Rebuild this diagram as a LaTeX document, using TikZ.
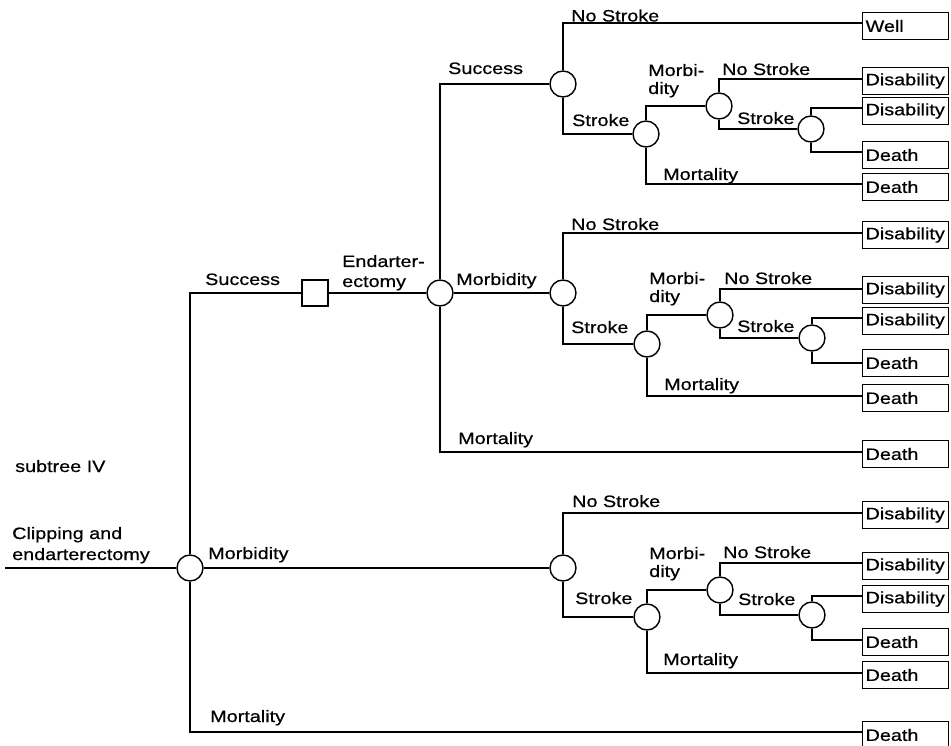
\documentclass[tikz,border=0pt]{standalone}
\usepackage{fontspec}
\setmainfont{Liberation Sans}[FakeStretch=1.2,FakeBold=0.6]
\begin{document}
\begin{tikzpicture}[x=1pt,y=-1pt,
  every node/.style={font=\fontsize{16.5}{18}\selectfont},
  chance/.style={circle,draw,line width=1.4pt,minimum size=26pt,inner sep=0pt},
  decision/.style={rectangle,draw,line width=1.3pt,minimum size=26pt,inner sep=0pt},
  outcome/.style={rectangle,draw,line width=1.2pt,minimum width=86pt,minimum height=27pt,
    inner sep=2.5pt,anchor=west,text width=80pt,align=left},
  lbl/.style={inner sep=0pt,anchor=base west,align=left},
  conn/.style={line width=1.2pt}]
\useasboundingbox (0,0) rectangle (951,746);

% ---------- root part ----------
\coordinate (in) at (5,568);
\node[chance] (R) at (190,568) {};
\node[decision] (S) at (315,293) {};
\node[chance] (E) at (440,293) {};

% ---------- top subtree ----------
\node[chance] (A1) at (563,84) {};
\node[chance] (B1) at (646,134) {};
\node[chance] (C1) at (719,106) {};
\node[chance] (D1) at (811,129) {};
\node[outcome] (T1) at (862,26) {Well};
\node[outcome] (T2) at (862,81) {Disability};
\node[outcome] (T3) at (862,111) {Disability};
\node[outcome] (T4) at (862,155) {Death};
\node[outcome] (T5) at (862,187) {Death};

% ---------- middle subtree ----------
\node[chance] (F) at (563,293) {};
\node[chance] (G) at (647,344) {};
\node[chance] (H) at (720,315) {};
\node[chance] (I) at (812,338) {};
\node[outcome] (M1) at (862,235) {Disability};
\node[outcome] (M2) at (862,290) {Disability};
\node[outcome] (M3) at (862,321) {Disability};
\node[outcome] (M4) at (862,363) {Death};
\node[outcome] (M5) at (862,398) {Death};
\node[outcome] (M6) at (862,454) {Death};

% ---------- bottom subtree ----------
\node[chance] (J) at (563,568) {};
\node[chance] (K) at (647,617) {};
\node[chance] (L) at (720,590) {};
\node[chance] (Mc) at (812,615) {};
\node[outcome] (U1) at (862,515) {Disability};
\node[outcome] (U2) at (862,566) {Disability};
\node[outcome] (U3) at (862,599) {Disability};
\node[outcome] (U4) at (862,642) {Death};
\node[outcome] (U5) at (862,675) {Death};
\node[outcome] (U6) at (862,735) {Death};

% ---------- connectors ----------
\draw[conn] (in) -- (R.west);
\draw[conn] (R.north) |- (S.west);
\draw[conn] (S.east) -- (E.west);
\draw[conn] (R.east) -- (J.west);
\draw[conn] (R.south) |- ([yshift=3pt]U6.west);

\draw[conn] (E.north) |- (A1.west);
\draw[conn] (E.east) -- (F.west);
\draw[conn] (E.south) |- ([yshift=2pt]M6.west);

% top
\draw[conn] (A1.north) |- ([yshift=3pt]T1.west);
\draw[conn] (A1.south) |- (B1.west);
\draw[conn] (B1.north) |- (C1.west);
\draw[conn] (B1.south) |- ([yshift=3pt]T5.west);
\draw[conn] (C1.north) |- ([yshift=2pt]T2.west);
\draw[conn] (C1.south) |- (D1.west);
\draw[conn] (D1.north) |- ([yshift=3pt]T3.west);
\draw[conn] (D1.south) |- ([yshift=3pt]T4.west);

% middle
\draw[conn] (F.north) |- ([yshift=2pt]M1.west);
\draw[conn] (F.south) |- (G.west);
\draw[conn] (G.north) |- (H.west);
\draw[conn] (G.south) |- ([yshift=2pt]M5.west);
\draw[conn] (H.north) |- ([yshift=1pt]M2.west);
\draw[conn] (H.south) |- (I.west);
\draw[conn] (I.north) |- ([yshift=3pt]M3.west);
\draw[conn] (I.south) |- (M4.west);

% bottom
\draw[conn] (J.north) |- ([yshift=2pt]U1.west);
\draw[conn] (J.south) |- (K.west);
\draw[conn] (K.north) |- (L.west);
\draw[conn] (K.south) |- ([yshift=2pt]U5.west);
\draw[conn] (L.north) |- ([yshift=3pt]U2.west);
\draw[conn] (L.south) |- (Mc.west);
\draw[conn] (Mc.north) |- ([yshift=3pt]U3.west);
\draw[conn] (Mc.south) |- ([yshift=2pt]U4.west);

% ---------- labels (multi-line: coordinate is baseline of last line) ----------
\node[lbl] (l1) at (15,472) {subtree IV};
\node[lbl] (l2) at (12,560) {Clipping and\\[3pt]endarterectomy};
\node[lbl] (l3) at (205,285) {Success};
\node[lbl] (l4) at (342,287) {Endarter-\\[2pt]ectomy};
\node[lbl] (l5) at (208,559) {Morbidity};
\node[lbl] (l6) at (210,722) {Mortality};

\node[lbl] (t1) at (571,21.5) {No Stroke};
\node[lbl] (t2) at (448,74) {Success};
\node[lbl] (t3) at (572,126) {Stroke};
\node[lbl] (t4) at (648,94) {Morbi-\\dity};
\node[lbl] (t5) at (722,75) {No Stroke};
\node[lbl] (t6) at (737,124) {Stroke};
\node[lbl] (t7) at (663,180) {Mortality};

\node[lbl] (m1) at (456,285) {Morbidity};
\node[lbl] (m2) at (571,230) {No Stroke};
\node[lbl] (m3) at (571,333) {Stroke};
\node[lbl] (m4) at (649,302) {Morbi-\\dity};
\node[lbl] (m5) at (724,284) {No Stroke};
\node[lbl] (m6) at (737,332) {Stroke};
\node[lbl] (m7) at (664,390) {Mortality};
\node[lbl] (m8) at (458,444) {Mortality};

\node[lbl] (b1) at (572,507) {No Stroke};
\node[lbl] (b2) at (575,604) {Stroke};
\node[lbl] (b3) at (649,577) {Morbi-\\dity};
\node[lbl] (b4) at (723,558) {No Stroke};
\node[lbl] (b5) at (738,605) {Stroke};
\node[lbl] (b6) at (663,665) {Mortality};
\end{tikzpicture}
\end{document}
